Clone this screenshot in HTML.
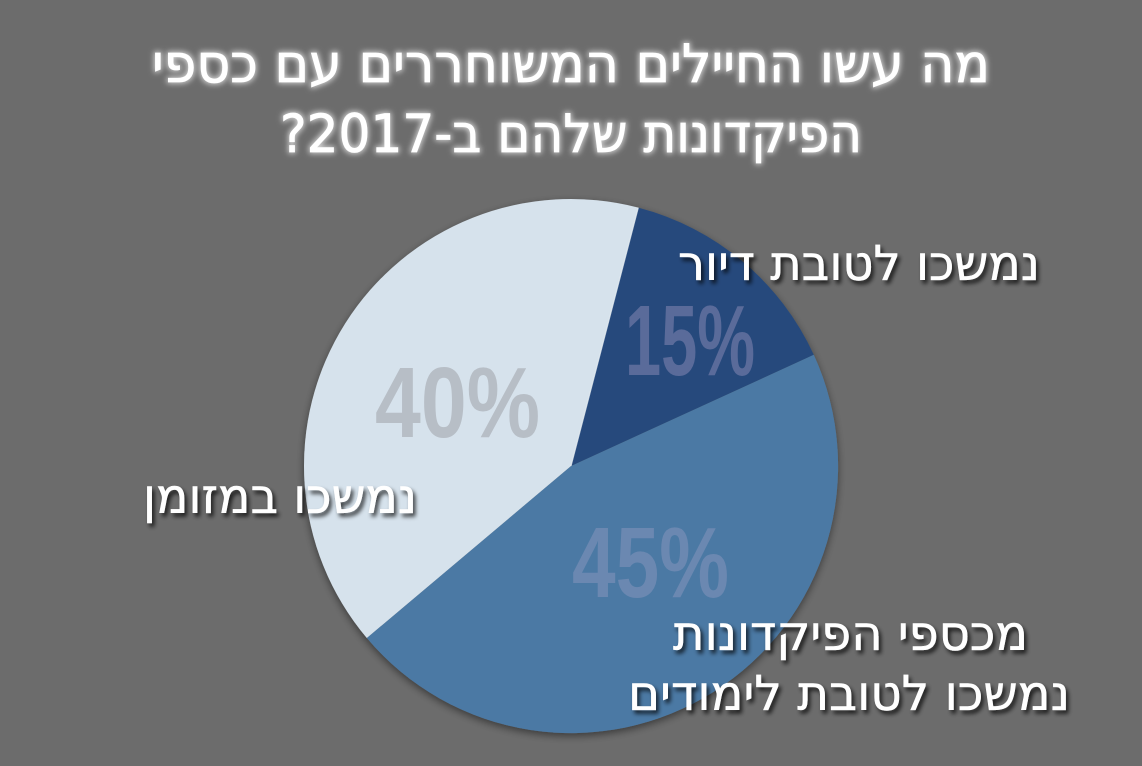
<!DOCTYPE html>
<html>
<head>
<meta charset="utf-8">
<style>
  html, body { margin: 0; padding: 0; background: #6c6c6c; }
  svg { display: block; }
  .heb { font-family: "DejaVu Sans", "Liberation Sans", sans-serif; }
</style>
</head>
<body>
<svg width="1142" height="766" viewBox="0 0 1142 766" xmlns="http://www.w3.org/2000/svg">
  <defs>
    <filter id="glow" x="-10%" y="-50%" width="120%" height="200%">
      <feMorphology in="SourceAlpha" operator="dilate" radius="1" result="d"/>
      <feGaussianBlur in="d" stdDeviation="3" result="b"/>
      <feFlood flood-color="#ffffff" flood-opacity="0.7"/>
      <feComposite in2="b" operator="in" result="g"/>
      <feMerge>
        <feMergeNode in="g"/>
        <feMergeNode in="SourceGraphic"/>
      </feMerge>
    </filter>
    <filter id="shadow" x="-10%" y="-40%" width="120%" height="180%">
      <feDropShadow dx="2.5" dy="3.5" stdDeviation="2" flood-color="#000000" flood-opacity="0.75"/>
    </filter>
    <filter id="pieshadow" x="-10%" y="-10%" width="120%" height="120%">
      <feDropShadow dx="0" dy="3" stdDeviation="4" flood-color="#000000" flood-opacity="0.45"/>
    </filter>
  </defs>

  <rect x="0" y="0" width="1142" height="766" fill="#6c6c6c"/>

  <!-- Title -->
  <g class="heb" fill="#ffffff" filter="url(#glow)" font-size="53" stroke="#ffffff" stroke-width="0.8">
    <text x="571" y="82" text-anchor="middle" textLength="838" lengthAdjust="spacingAndGlyphs">מה עשו החיילים המשוחררים עם כספי</text>
    <text x="571" y="152" text-anchor="middle" textLength="582" lengthAdjust="spacingAndGlyphs">&#x200F;הפיקדונות שלהם ב-2017?&#x200F;</text>
  </g>

  <!-- Pie -->
  <g filter="url(#pieshadow)">
    <path d="M571,466 L638.3,207.6 A267,267 0 0 1 813.8,354.8 Z" fill="#284a7b"/>
    <path d="M571,466 L813.8,354.8 A267,267 0 0 1 366.8,638 Z" fill="#4b79a4"/>
    <path d="M571,466 L366.8,638 A267,267 0 0 1 638.3,207.6 Z" fill="#d6e2ec"/>
  </g>
  <g stroke="#e6edf3" stroke-width="1.2" fill="none" opacity="0.8">
    <line x1="571" y1="466" x2="638.3" y2="207.6"/>
  </g>

  <!-- Percent labels -->
  <g font-family="'Liberation Sans', 'DejaVu Sans', sans-serif" font-weight="bold" font-size="100">
    <text x="375" y="437" fill="#b7bec6" textLength="165" lengthAdjust="spacingAndGlyphs">40%</text>
    <text x="625" y="375" fill="#5a6b9a" textLength="130" lengthAdjust="spacingAndGlyphs">15%</text>
    <text x="572" y="597" fill="#6b88b1" textLength="157" lengthAdjust="spacingAndGlyphs">45%</text>
  </g>

  <!-- Category labels -->
  <g class="heb" fill="#ffffff" filter="url(#shadow)" font-size="48" stroke="#ffffff" stroke-width="0.5">
    <text x="859" y="280" text-anchor="middle" textLength="362" lengthAdjust="spacingAndGlyphs">נמשכו לטובת דיור</text>
    <text x="280" y="513" text-anchor="middle" textLength="274" lengthAdjust="spacingAndGlyphs">נמשכו במזומן</text>
    <text x="850.5" y="650" text-anchor="middle" textLength="355" lengthAdjust="spacingAndGlyphs">מכספי הפיקדונות</text>
    <text x="849" y="710" text-anchor="middle" textLength="442" lengthAdjust="spacingAndGlyphs">נמשכו לטובת לימודים</text>
  </g>
</svg>
</body>
</html>
